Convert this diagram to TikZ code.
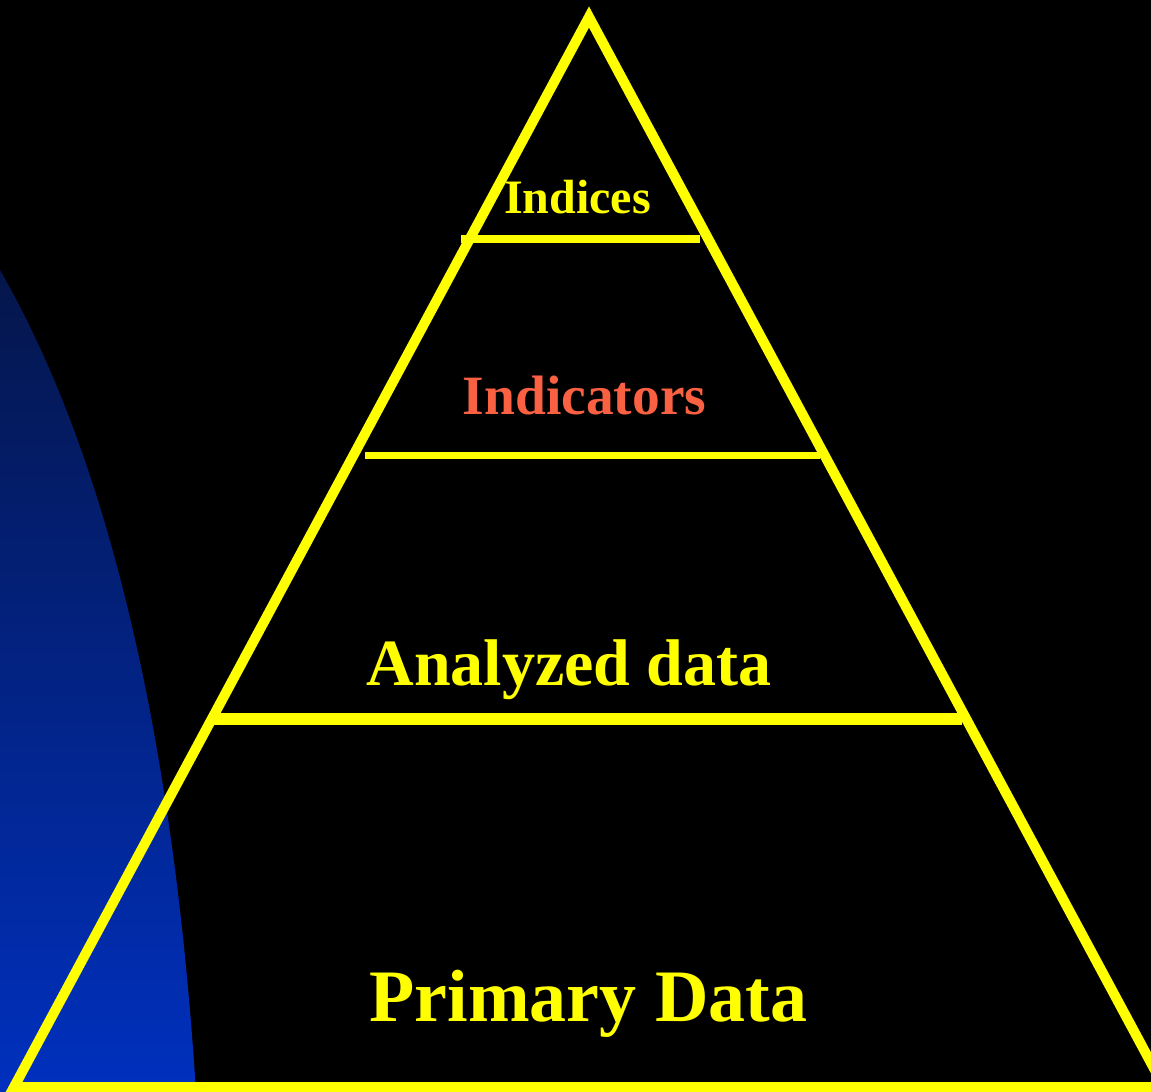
\documentclass[tikz,border=0pt]{standalone}
\usepackage{fontspec}
\setmainfont{Liberation Serif}
\definecolor{pyellow}{RGB}{255,255,0}
\definecolor{ptomato}{RGB}{250,96,66}
\definecolor{bluetop}{RGB}{5,22,75}
\definecolor{bluebot}{RGB}{0,48,190}
\tikzset{
  pyrline/.style={draw=pyellow, line cap=butt},
  lbl/.style={anchor=base, inner sep=0pt, font=\bfseries},
}
\begin{document}
\begin{tikzpicture}[x=1pt,y=-1pt]
\useasboundingbox (0,0) rectangle (1151,1092);
\fill[black] (0,0) rectangle (1151,1092);
\clip (0,0) rectangle (1151,1092);
% blue curved backdrop
\shade[top color=bluetop, bottom color=bluebot]
  (0,270) .. controls (115,470) and (175,760) .. (196,1092) -- (0,1092) -- cycle;
% pyramid
\coordinate (apex) at (589,17);
\coordinate (bl) at (14,1087);
\coordinate (br) at (1164,1087);
\draw[pyrline, line width=10pt, line join=miter] (apex) -- (bl) -- (br) -- cycle;
% tiers
\coordinate (t1l) at (461,239);   \coordinate (t1r) at (700,239);
\coordinate (t2l) at (365,455.5); \coordinate (t2r) at (820,455.5);
\coordinate (t3l) at (213,719);   \coordinate (t3r) at (962,719);
\draw[pyrline, line width=8pt] (t1l) -- (t1r);
\draw[pyrline, line width=7pt] (t2l) -- (t2r);
\draw[pyrline, line width=12pt] (t3l) -- (t3r);
% labels
\node[lbl, text=pyellow, font=\fontsize{48}{48}\selectfont\bfseries] (indices) at (577.5,213) {Indices};
\node[lbl, text=ptomato, font=\fontsize{55.5}{55.5}\selectfont\bfseries] (indicators) at (584.5,414) {Indicators};
\node[lbl, text=pyellow, font=\fontsize{66}{66}\selectfont\bfseries] (analyzed) at (569,685) {Analyzed data};
\node[lbl, text=pyellow, font=\fontsize{74}{74}\selectfont\bfseries] (primary) at (588.5,1021) {Primary Data};
\end{tikzpicture}
\end{document}
